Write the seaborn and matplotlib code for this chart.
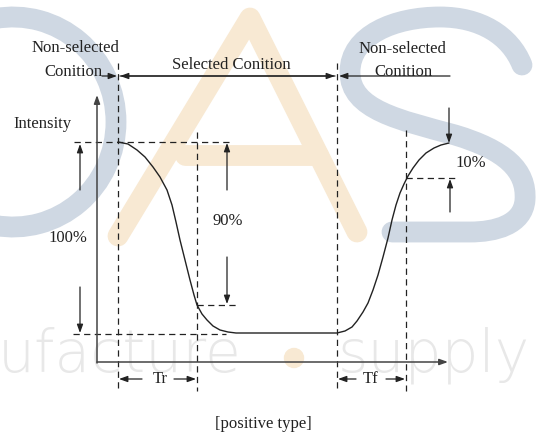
import numpy as np
import pandas as pd
import matplotlib
matplotlib.use("Agg")
import matplotlib.pyplot as plt
import seaborn as sns
from matplotlib.patches import FancyArrowPatch, Arc, PathPatch, Circle
from matplotlib.path import Path

# ---- data (pixel-space diagram) ----
curve_x = [118, 128, 137, 145, 153, 160, 167, 172, 176, 180, 185, 190, 194, 197,
           202, 207, 213, 220, 228, 236, 337, 345, 352, 357, 363, 368, 373, 378,
           383, 388, 392, 396, 400, 404, 408, 413, 419, 426, 434, 441, 449]
curve_y = [142, 144, 150, 157, 167, 177, 190, 205, 222, 240, 260, 280, 295, 305,
           314, 320, 326, 330, 332, 333, 333, 331, 327, 321, 312, 303, 290, 275,
           257, 238, 220, 205, 193, 184, 176, 168, 160, 153, 148, 145, 143]

vlines_x = [118, 197, 337, 406]
vlines_top = [63, 132, 63, 130]
vline_bottom = 391

labels = ["Non-selected", "Conition", "Selected Conition", "Non-selected", "Conition",
          "Intensity", "100%", "90%", "10%", "Tr", "Tf", "[positive type]"]
label_x = [75, 73, 231, 402, 403, 42, 68, 228, 471, 160, 371, 263]
label_y = [48, 72, 65, 49, 72, 124, 238, 221, 163, 379, 379, 424]

W, H = 538, 437
sns.set_theme(style="white")
plt.rcParams['font.family'] = ['Liberation Serif', 'DejaVu Serif']
fig = plt.figure(figsize=(W / 100, H / 100), dpi=100)
ax = fig.add_axes([0, 0, 1, 1])
ax.set_xlim(0, W)
ax.set_ylim(H, 0)
ax.axis("off")
fig.patch.set_facecolor("white")

# ---- watermark ----
blue = "#cfd8e3"
orange = "#f8e9d3"
wm_lw = 15
ax.add_patch(Arc((13, 122), 206, 210, theta1=-100, theta2=100, color=blue, lw=wm_lw, zorder=0))
ax.plot([118, 250, 357], [236, 18, 232], color=orange, lw=wm_lw, solid_capstyle="round",
        solid_joinstyle="round", zorder=0)
ax.plot([185, 318], [155, 155], color=orange, lw=wm_lw, solid_capstyle="round", zorder=0)
verts = [(522, 65), (510, 35), (480, 17), (440, 17),
         (395, 17), (350, 35), (350, 72),
         (350, 110), (400, 120), (455, 135),
         (505, 150), (527, 170), (525, 200),
         (523, 225), (495, 232), (470, 232),
         (392, 232)]
codes = [Path.MOVETO] + [Path.CURVE4] * 15 + [Path.LINETO]
ax.add_patch(PathPatch(Path(verts, codes), fill=False, edgecolor=blue, lw=wm_lw,
                       capstyle="round", zorder=0))
ax.text(242, 372, "ufacture", fontsize=42, family="DejaVu Sans", fontweight="light",
        color="#e8e8e8", ha="right", va="baseline", zorder=0)
ax.text(338, 372, "supply", fontsize=42, family="DejaVu Sans", fontweight="light",
        color="#e8e8e8", ha="left", va="baseline", zorder=0)
ax.add_patch(Circle((294, 358), 9.5, color=orange, zorder=0))

ink = "#222222"
axis_col = "#444444"

def arrow(x0, y0, x1, y1, color=ink, lw=0.9):
    ax.add_patch(FancyArrowPatch((x0, y0), (x1, y1),
                                 arrowstyle="-|>,head_length=5,head_width=1.8",
                                 mutation_scale=1, shrinkA=0, shrinkB=0,
                                 color=color, lw=lw, zorder=3))

dash = (0, (5, 3.5))

# axes
arrow(97, 363, 97, 95, color=axis_col, lw=1.1)
arrow(97, 362, 448, 362, color=axis_col, lw=1.1)

# vertical dashed lines
for xv, yt in zip(vlines_x, vlines_top):
    ax.plot([xv, xv], [yt, vline_bottom], color=ink, lw=0.9, ls=dash, zorder=2)

# horizontal dashed lines
ax.plot([74, 232], [142, 142], color=ink, lw=0.9, ls=dash, zorder=2)
ax.plot([73, 226], [334, 334], color=ink, lw=0.9, ls=dash, zorder=2)
ax.plot([197, 236], [305, 305], color=ink, lw=0.9, ls=dash, zorder=2)
ax.plot([406, 455], [178, 178], color=ink, lw=0.9, ls=dash, zorder=2)

# curve
df = pd.DataFrame({"x": curve_x, "y": curve_y})
sns.lineplot(data=df, x="x", y="y", sort=False, color=ink, lw=1.0, ax=ax, zorder=3)
ax.set_xlim(0, W)
ax.set_ylim(H, 0)
ax.axis("off")

# top condition arrows
arrow(102, 76, 117, 76)
arrow(335, 76, 120, 76)
arrow(120, 76, 335, 76)
arrow(450, 76, 339, 76)

# 100% arrows
arrow(80, 190, 80, 144)
arrow(80, 287, 80, 333)
# 90% arrows
arrow(227, 190, 227, 143)
arrow(227, 257, 227, 304)
# 10% arrows
arrow(449, 108, 449, 143)
arrow(450, 212, 450, 179)
# Tr / Tf arrows
arrow(142, 379, 119, 379)
arrow(174, 379, 196, 379)
arrow(356, 379, 338, 379)
arrow(386, 379, 405, 379)

for t, x, y in zip(labels, label_x, label_y):
    ax.text(x, y, t, fontsize=12, color=ink, ha="center", va="center", zorder=4)

fig.savefig("out.png", dpi=100)
